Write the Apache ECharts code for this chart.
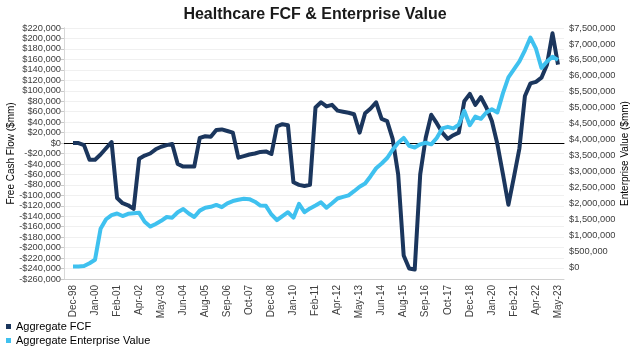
<!DOCTYPE html>
<html>
<head>
<meta charset="utf-8">
<script src="https://cdn.jsdelivr.net/npm/echarts@6/dist/echarts.min.js"></script>
<style>
  html, body { margin: 0; padding: 0; background: #fff; }
  #chart { width: 630px; height: 348px; }
</style>
</head>
<body>
<div id="chart"></div>
<script>
// Axis tick labels (one every 4 observations)
const tickLabels = ['Dec-98','Jan-00','Feb-01','Apr-02','May-03','Jun-04','Aug-05','Sep-06','Oct-07',
  'Dec-08','Jan-10','Feb-11','Apr-12','May-13','Jun-14','Aug-15','Sep-16','Oct-17','Dec-18',
  'Jan-20','Feb-21','Apr-22','May-23'];
const pointsPerTick = 4;

// Aggregate free cash flow, $mm
const fcf = [
  0, 0, -4000, -32000, -32000, -22000, -10000, 2000,
  -105000, -115000, -119000, -126000, -30000, -24000, -20000, -12000,
  -7000, -4000, -2000, -40000, -45000, -45000, -45000, 10000,
  13000, 12000, 25000, 26000, 23000, 20000, -28000, -25000,
  -22000, -20000, -17000, -16000, -21000, 32000, 36000, 34000,
  -75000, -80000, -82000, -80000, 68000, 78000, 70000, 73000,
  62000, 60000, 58000, 55000, 20000, 57000, 66000, 78000,
  46000, 42000, 8000, -60000, -215000, -240000, -242000, -60000,
  10000, 54000, 38000, 20000, 8000, 15000, 20000, 80000,
  94000, 73000, 88000, 68000, 42000, -2000, -59000, -118000,
  -65000, -10000, 90000, 114000, 117000, 125000, 150000, 210000,
  150000
];

// Aggregate enterprise value, $mm
const ev = [
  20000, 20000, 30000, 120000, 230000, 1200000, 1500000, 1630000,
  1680000, 1600000, 1670000, 1690000, 1700000, 1420000, 1270000, 1350000,
  1450000, 1570000, 1550000, 1720000, 1820000, 1680000, 1570000, 1770000,
  1860000, 1890000, 1950000, 1880000, 2000000, 2070000, 2110000, 2140000,
  2130000, 2050000, 1930000, 1920000, 1650000, 1470000, 1600000, 1720000,
  1550000, 1980000, 1720000, 1840000, 1930000, 2030000, 1860000, 2000000,
  2150000, 2200000, 2250000, 2380000, 2520000, 2620000, 2850000, 3100000,
  3250000, 3420000, 3680000, 3900000, 4050000, 3800000, 3750000, 3850000,
  3900000, 3850000, 4050000, 4350000, 4400000, 4350000, 4470000, 4900000,
  4450000, 4720000, 4650000, 4850000, 4950000, 4850000, 5450000, 5950000,
  6200000, 6450000, 6800000, 7200000, 6850000, 6250000, 6450000, 6600000,
  6500000
];

const categories = fcf.map((_, i) => (i % pointsPerTick === 0 ? tickLabels[i / pointsPerTick] : ''));

const FONT = "'Liberation Sans', Arial, sans-serif";
const fmtMoney = v => (v < 0 ? '-$' : '$') + Math.abs(v).toLocaleString('en-US');

const leftAxis = { min: -260000, max: 220000, interval: 20000 };
const rightAxis = { min: -375000, max: 7500000, interval: 125000 };

const plotTop = 28, plotHeight = 251;
const legendText = { fontFamily: FONT, fontSize: 11, color: '#000' };

const chart = echarts.init(document.getElementById('chart'));
chart.setOption({
  animation: false,
  backgroundColor: '#fff',
  title: {
    text: 'Healthcare FCF & Enterprise Value',
    left: 'center', top: 2,
    textStyle: { fontFamily: FONT, fontSize: 16, fontWeight: 'bold', color: '#1a1a1a' }
  },
  legend: [
    { left: 1, top: 316, itemWidth: 5, itemHeight: 5, icon: 'rect', itemGap: 0,
      textStyle: legendText, data: ['Aggregate FCF'] },
    { left: 1, top: 330, itemWidth: 5, itemHeight: 5, icon: 'rect', itemGap: 0,
      textStyle: legendText, data: ['Aggregate Enterprise Value'] }
  ],
  grid: [
    // frame, value axes and gridlines
    { left: 64, right: 66, top: plotTop, height: plotHeight, outerBoundsMode: 'none' },
    // data area, inset from the frame
    { left: 73, right: 72, top: plotTop, height: plotHeight, outerBoundsMode: 'none' }
  ],
  xAxis: [
    { gridIndex: 0, type: 'value', min: 0, max: 1, position: 'bottom',
      axisLine: { onZero: false, lineStyle: { color: '#d0d0d0', width: 1 } },
      axisTick: { show: false }, axisLabel: { show: false }, splitLine: { show: false } },
    { gridIndex: 0, type: 'value', min: 0, max: 1, position: 'top',
      axisLine: { onZero: true, onZeroAxisIndex: 0, lineStyle: { color: '#000', width: 1 } },
      axisTick: { show: false }, axisLabel: { show: false }, splitLine: { show: false } },
    { gridIndex: 1, type: 'category', data: categories, boundaryGap: false,
      axisLine: { show: false }, axisTick: { show: false },
      axisLabel: { interval: pointsPerTick - 1, rotate: 90, margin: 6,
        fontFamily: FONT, fontSize: 10, color: '#404040' } }
  ],
  yAxis: [
    { gridIndex: 0, type: 'value', position: 'left', ...leftAxis,
      name: 'Free Cash Flow ($mm)', nameLocation: 'middle', nameRotate: 90, nameGap: 48,
      nameMoveOverlap: false,
      nameTextStyle: { fontFamily: FONT, fontSize: 10, color: '#000' },
      axisLine: { show: true, lineStyle: { color: '#c8c8c8' } },
      axisTick: { show: true, length: 3, lineStyle: { color: '#c8c8c8' } },
      axisLabel: { margin: 3, fontFamily: FONT, fontSize: 9.3, color: '#404040', formatter: fmtMoney },
      splitLine: { show: true, lineStyle: { color: '#f0f0f0', width: 1 } } },
    { gridIndex: 0, type: 'value', position: 'right', ...rightAxis,
      name: 'Enterprise Value ($mm)', nameLocation: 'middle', nameRotate: 90, nameGap: 56,
      nameMoveOverlap: false,
      nameTextStyle: { fontFamily: FONT, fontSize: 10, color: '#000' },
      axisLine: { show: true, lineStyle: { color: '#d8d8d8' } },
      axisTick: { show: false },
      axisLabel: { margin: 5, fontFamily: FONT, fontSize: 9.3, color: '#404040',
        formatter: v => (v >= 0 && v % 500000 === 0 ? fmtMoney(v) : '') },
      splitLine: { show: false } },
    { gridIndex: 1, type: 'value', position: 'left', ...leftAxis, show: false },
    { gridIndex: 1, type: 'value', position: 'right', ...rightAxis, show: false }
  ],
  series: [
    { name: 'Aggregate FCF', type: 'line', xAxisIndex: 2, yAxisIndex: 2,
      data: fcf, showSymbol: false, symbol: 'none',
      lineStyle: { color: '#1b365d', width: 4, join: 'round' },
      itemStyle: { color: '#1b365d' } },
    { name: 'Aggregate Enterprise Value', type: 'line', xAxisIndex: 2, yAxisIndex: 3,
      data: ev, showSymbol: false, symbol: 'none',
      lineStyle: { color: '#3fc1ef', width: 4, join: 'round' },
      itemStyle: { color: '#3fc1ef' } }
  ]
});
</script>
</body>
</html>
